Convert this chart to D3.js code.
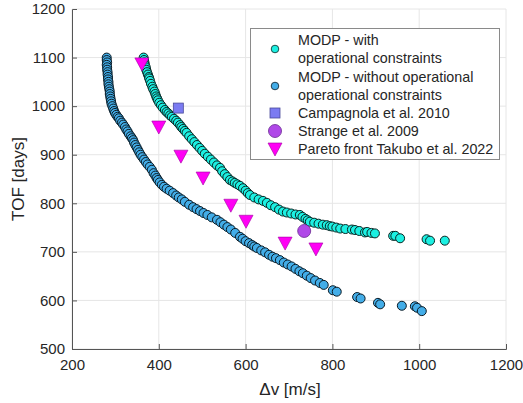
<!DOCTYPE html>
<html><head><meta charset="utf-8">
<script src="https://cdn.jsdelivr.net/npm/d3@7"></script>
<style>body{margin:0;background:#fff}svg{display:block;font-family:"Liberation Sans",Arial,sans-serif}</style>
</head><body><svg id="c" width="523" height="403"></svg>
<script>
const xTicks=[200,400,600,800,1000,1200];
const yTicks=[500,600,700,800,900,1000,1100,1200];
const withOps=[[365,1100],[366,1095],[367,1090],[368,1085],[370,1080],[371,1075],[373,1070],[375,1065],[377,1060],[378,1057],[380,1052],[382,1046],[385,1040],[387,1035],[390,1030],[392,1025],[394,1020],[396,1016],[398,1012],[401,1007],[405,1002],[409,997],[414,992],[418,988],[422,985],[426,981],[430,978],[435,974],[440,970],[444,966],[449,961],[452,957],[456,953],[460,949],[464,945],[470,938],[476,932],[482,926],[488,920],[494,914],[500,908],[506,902],[513,896],[520,890],[527,884],[534,878],[541,873],[546,866],[552,860],[558,854],[564,848],[570,845],[575,842],[581,839],[587,836],[594,831],[600,826],[605,821],[610,817],[620,812],[630,808],[640,805],[649,801],[658,796],[668,792],[677,787],[686,783],[695,781],[705,779],[715,777],[725,776],[731,772],[738,768],[743,765],[748,762],[758,760],[768,758],[778,756],[787,755],[794,753],[800,752],[809,750],[818,748],[830,747],[845,746],[852,745],[862,743],[875,740],[880,741],[890,739],[898,738],[940,733],[945,733],[956,728],[1017,726],[1025,723],[1059,723]];
const withoutOps=[[280,1100],[280,1095],[281,1090],[280,1085],[281,1080],[281,1075],[282,1070],[282,1065],[283,1060],[283,1055],[284,1050],[284,1045],[285,1040],[286,1035],[287,1030],[287,1025],[288,1020],[289,1015],[290,1010],[291,1005],[293,1000],[295,995],[297,990],[299,986],[302,982],[305,978],[308,975],[311,970],[315,966],[318,962],[322,957],[325,952],[328,948],[331,943],[335,938],[338,934],[341,930],[343,925],[346,920],[349,915],[352,910],[355,905],[358,900],[362,895],[366,890],[370,885],[374,880],[379,875],[384,869],[388,862],[392,857],[395,852],[398,848],[402,843],[407,838],[412,834],[418,830],[425,826],[433,821],[440,816],[446,812],[453,808],[460,803],[470,797],[479,792],[487,788],[495,784],[503,780],[512,776],[522,771],[534,766],[542,761],[550,756],[558,751],[566,746],[576,739],[587,731],[593,727],[600,722],[608,718],[615,714],[620,711],[626,708],[636,703],[645,699],[654,694],[662,690],[670,687],[679,683],[688,678],[697,674],[706,670],[715,665],[724,660],[732,656],[741,651],[750,646],[760,641],[771,636],[780,632],[801,621],[810,618],[857,607],[865,604],[905,595],[910,592],[960,589],[990,588],[995,585],[1006,578]];
const campagnola=[[445,996]];
const strange=[[735,743]];
const takubo=[[361,1087],[400,957],[451,897],[502,852],[566,796],[601,763],[691,718],[762,706]];
const legendLabels=[["MODP - with","operational constraints"],["MODP - without operational","operational constraints"],["Campagnola et al. 2010"],["Strange et al. 2009"],["Pareto front Takubo et al. 2022"]];

const svg=d3.select("#c");
const L=72,R=506,T=9,B=349;
const x=d3.scaleLinear().domain([200,1200]).range([L,R]);
const y=d3.scaleLinear().domain([500,1200]).range([B,T]);
const axc="#555", txt="#262626";
svg.append("g").selectAll("line").data(xTicks).join("line")
 .attr("x1",d=>x(d)).attr("x2",d=>x(d)).attr("y1",T).attr("y2",B).attr("stroke","#e6e6e6");
svg.append("g").selectAll("line").data(yTicks).join("line")
 .attr("y1",d=>y(d)).attr("y2",d=>y(d)).attr("x1",L).attr("x2",R).attr("stroke","#e6e6e6");
const xa=svg.append("g").attr("transform",`translate(0,${B})`).call(d3.axisBottom(x).tickValues(xTicks).tickSize(-5).tickPadding(10).tickFormat(d3.format("d")));
const ya=svg.append("g").attr("transform",`translate(${L},0)`).call(d3.axisLeft(y).tickValues(yTicks).tickSize(-5).tickPadding(7).tickFormat(d3.format("d")));
[xa,ya].forEach(a=>{a.select(".domain").attr("stroke",axc);a.selectAll(".tick line").attr("stroke",axc);
 a.selectAll("text").attr("fill",txt).style("font-size","15px").style("font-family","Liberation Sans, Arial, sans-serif");});
xa.selectAll(".tick line").filter(d=>d===1200).remove();
ya.selectAll(".tick line").filter(d=>d===1200).remove();
const edgeB="#0a1a24", edgeC="#0a2422";
svg.append("g").selectAll("circle").data(withoutOps).join("circle")
 .attr("cx",d=>x(d[0])).attr("cy",d=>y(d[1])).attr("r",4.5).attr("fill","#43ade8").attr("stroke",edgeB).attr("stroke-width",1);
svg.append("g").selectAll("circle").data(withOps).join("circle")
 .attr("cx",d=>x(d[0])).attr("cy",d=>y(d[1])).attr("r",4.5).attr("fill","#1cf0e2").attr("stroke",edgeC).attr("stroke-width",1);
svg.append("g").selectAll("rect").data(campagnola).join("rect")
 .attr("x",d=>x(d[0])-5).attr("y",d=>y(d[1])-5).attr("width",10).attr("height",10).attr("fill","#7b7bf2").attr("stroke","#4a4a9a").attr("stroke-width",0.8);
svg.append("g").selectAll("circle").data(strange).join("circle")
 .attr("cx",d=>x(d[0])).attr("cy",d=>y(d[1])).attr("r",6.5).attr("fill","#b048e8").attr("stroke","#6a2a90").attr("stroke-width",0.8);
const tri=d=>{const cx=x(d[0]),cy=y(d[1]);return `M${cx-7},${cy-6}L${cx+7},${cy-6}L${cx},${cy+7}Z`;};
svg.append("g").selectAll("path").data(takubo).join("path")
 .attr("d",tri).attr("fill","#ff00f5").attr("stroke","#a000a0").attr("stroke-width",0.6);
const lg=svg.append("g");
lg.append("rect").attr("x",250.5).attr("y",28.5).attr("width",249).attr("height",131).attr("fill","#fff").attr("stroke","#8a8a8a");
const rows=[40,58,77,95,113,131,149];
const lt=lg.append("g").style("font-size","14.3px").attr("fill",txt);
const flat=[legendLabels[0][0],legendLabels[0][1],legendLabels[1][0],legendLabels[1][1],legendLabels[2][0],legendLabels[3][0],legendLabels[4][0]];
flat.forEach((s,i)=>lt.append("text").attr("x",298).attr("y",rows[i]+5).text(s));
lg.append("circle").attr("cx",275).attr("cy",49).attr("r",3.8).attr("fill","#1cf0e2").attr("stroke",edgeC).attr("stroke-width",0.8);
lg.append("circle").attr("cx",275).attr("cy",86).attr("r",3.8).attr("fill","#43ade8").attr("stroke",edgeB).attr("stroke-width",0.8);
lg.append("rect").attr("x",270).attr("y",108).attr("width",10).attr("height",10).attr("fill","#7b7bf2").attr("stroke","#4a4a9a").attr("stroke-width",0.8);
lg.append("circle").attr("cx",275).attr("cy",131).attr("r",6.5).attr("fill","#b048e8").attr("stroke","#6a2a90").attr("stroke-width",0.8);
lg.append("path").attr("d","M268,143L282,143L275,156Z").attr("fill","#ff00f5").attr("stroke","#a000a0").attr("stroke-width",0.6);
svg.append("text").attr("x",290).attr("y",395).attr("text-anchor","middle").attr("fill",txt).style("font-size","17px").text("Δv [m/s]");
svg.append("text").attr("transform","translate(24,179) rotate(-90)").attr("text-anchor","middle").attr("fill",txt).style("font-size","17px").text("TOF [days]");
</script></body></html>
